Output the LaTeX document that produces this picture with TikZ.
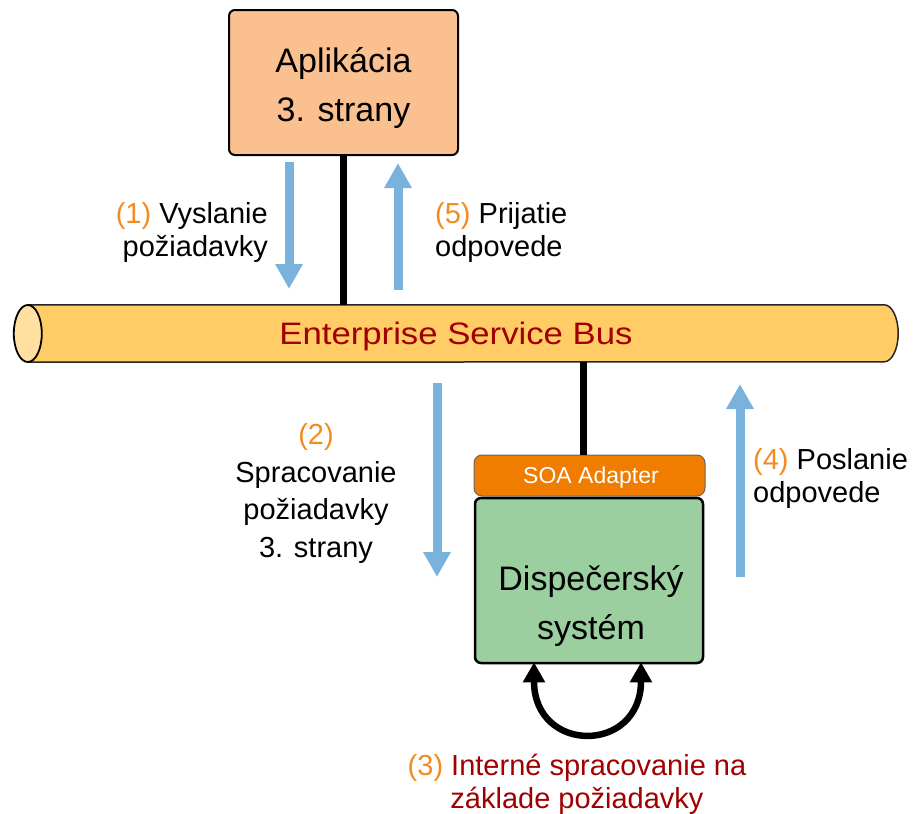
\documentclass[tikz,border=0pt]{standalone}
\usepackage{fontspec}
\setmainfont{Liberation Sans}
\usetikzlibrary{arrows.meta}

\definecolor{appfill}{HTML}{FAC090}
\definecolor{busfill}{HTML}{FFCC66}
\definecolor{busend}{HTML}{FFE0A0}
\definecolor{adapterfill}{HTML}{F07C00}
\definecolor{dispfill}{HTML}{9BCFA0}
\definecolor{flowblue}{HTML}{7AB2DE}
\definecolor{steporange}{HTML}{F28C1E}
\definecolor{darkred}{HTML}{A00000}

\tikzset{
  boxfont/.style={font=\fontsize{34}{49}\selectfont},
  lblfont/.style={font=\fontsize{29}{33}\selectfont},
  appbox/.style={draw=black, line width=2pt, rounded corners=6pt, fill=appfill,
    minimum width=229pt, minimum height=145pt},
  dispbox/.style={draw=black, line width=2.5pt, rounded corners=6pt, fill=dispfill,
    minimum width=228pt, minimum height=165pt},
  adapterbox/.style={draw=black!60, line width=1pt, rounded corners=8pt, fill=adapterfill,
    minimum width=231pt, minimum height=41pt},
  boxtext/.style={boxfont, align=center, anchor=base, inner sep=0pt},
  link/.style={draw=black, line width=7pt},
  flow/.style={draw=flowblue, line width=9pt, -{Triangle[width=26pt,length=25pt]}},
  loopback/.style={draw=black, line width=6.5pt,
    {Triangle[width=21pt,length=20pt]}-{Triangle[width=21pt,length=20pt]}},
  lbl/.style={lblfont, inner sep=0pt},
}

\begin{document}
\begin{tikzpicture}[x=1pt, y=-1pt]
\useasboundingbox (0,0) rectangle (914,814);

% third-party application
\node[appbox] (app) at (343.5,82.5) {};
\node[boxtext] (apptext) at (343.5,121) {Aplikácia\\3. strany};

% the bus: a horizontal cylinder drawn around an empty frame node
\node[minimum width=856pt, minimum height=57pt, inner sep=0pt] (bus) at (456,333.5) {};
\fill[busfill] (bus.north west) -- (bus.north east)
  arc[start angle=-90, end angle=90, x radius=14, y radius=28.5]
  -- (bus.south west) -- cycle;
\draw[line width=1.5pt, black!85] (bus.north west) -- (bus.north east)
  arc[start angle=-90, end angle=90, x radius=14, y radius=28.5]
  -- (bus.south west);
\draw[line width=1.8pt, fill=busend] (bus.west) ellipse[x radius=14, y radius=28.5];
\node[text=darkred, font=\fontsize{31}{34}\selectfont] (bustext) at ([yshift=-3pt]bus.center)
  {\scalebox{1.12}[1]{Enterprise Service Bus}};

% dispatching system with its adapter
\node[adapterbox] (adapter) at (589.5,475.5) {};
\node[text=white, font=\fontsize{23}{26}\selectfont] (adaptertext) at (591,478) {SOA Adapter};
\node[dispbox] (disp) at (589,580.5) {};
\node[boxtext] (disptext) at (591,639) {Dispečerský\\systém};

% connections to the bus
\draw[link] (app.south) -- (app.south |- bus.north);
\draw[link] ([xshift=-6.5pt]adapter.north) -- ([xshift=-6.5pt]adapter.north |- bus.south);

% message flow arrows
\coordinate (f1s) at (289,162); \coordinate (f1e) at (289,289);
\coordinate (f5s) at (398,290); \coordinate (f5e) at (398,163);
\coordinate (f2s) at (437,383); \coordinate (f2e) at (437,577);
\coordinate (f4s) at (740,577); \coordinate (f4e) at (740,384);
\draw[flow] (f1s) -- (f1e);
\draw[flow] (f5s) -- (f5e);
\draw[flow] (f2s) -- (f2e);
\draw[flow] (f4s) -- (f4e);

% internal processing loop
\draw[loopback] ([xshift=-55pt, yshift=2pt]disp.south)
  .. controls +(0,92) and +(0,92) .. ([xshift=52pt, yshift=2pt]disp.south);

% step labels (anchored at the baseline of their last line)
\node[lbl, align=right, anchor=base east] (l1) at (268,256)
  {\textcolor{steporange}{(1)} Vyslanie\\požiadavky};
\node[lbl, align=left, anchor=base west] (l5) at (435,256)
  {\textcolor{steporange}{(5)} Prijatie\\odpovede};
\node[lbl, align=center, anchor=base, font=\fontsize{29}{37.5}\selectfont] (l2) at (316,557)
  {\textcolor{steporange}{(2)}\\Spracovanie\\požiadavky\\3. strany};
\node[lbl, align=left, anchor=base west] (l4) at (753,502)
  {\textcolor{steporange}{(4)} Poslanie\\odpovede};
\node[lbl, align=center, anchor=base, text=darkred, font=\fontsize{29}{33}\selectfont] (l3) at (577,808)
  {\textcolor{steporange}{(3)} Interné spracovanie na\\základe požiadavky};
\end{tikzpicture}
\end{document}
